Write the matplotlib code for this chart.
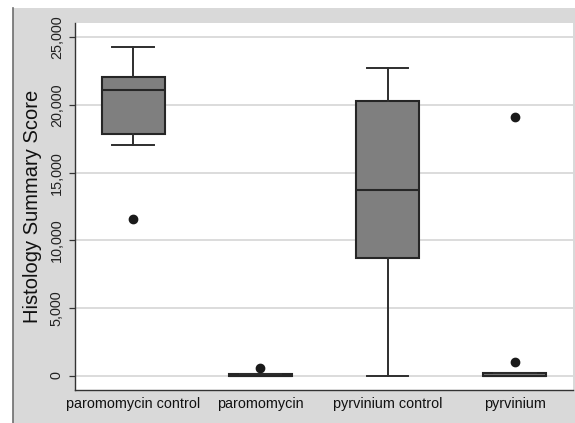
import matplotlib
matplotlib.use('Agg')
import matplotlib.pyplot as plt
from matplotlib.patches import Rectangle
from matplotlib.lines import Line2D
from matplotlib.ticker import FuncFormatter

plt.rcParams['font.family'] = ['Liberation Sans', 'DejaVu Sans']

# box statistics
groups = ['paromomycin control', 'paromomycin', 'pyrvinium control', 'pyrvinium']
whisker_lo = [17030, 0, 0, 0]
q1 = [17840, 0, 8670, 0]
median = [21120, 0, 13720, 0]
q3 = [22060, 130, 20280, 200]
whisker_hi = [24270, 130, 22720, 200]
outliers = [[11580], [530], [], [1020, 19140]]
yticks = [0, 5000, 10000, 15000, 20000, 25000]

fig = plt.figure(figsize=(5.75, 4.23), dpi=100)
fig.patch.set_facecolor('white')

# grey outer panel with dark left border
fig.patches.append(Rectangle((13 / 575, 0), 1 - 13 / 575, 1 - 8 / 423,
                             transform=fig.transFigure, facecolor='#d9d9d9',
                             edgecolor='none', zorder=-10))
fig.lines.append(Line2D([13 / 575, 13 / 575], [0, 1 - 8 / 423],
                        transform=fig.transFigure, color='#6e6e6e', lw=1.2,
                        zorder=-9))

ax = fig.add_axes([75 / 575, 33 / 423, 498 / 575, 367 / 423])
ax.set_facecolor('white')

stats = []
for i, g in enumerate(groups):
    stats.append(dict(label=g, whislo=whisker_lo[i], q1=q1[i], med=median[i],
                      q3=q3[i], whishi=whisker_hi[i], fliers=outliers[i]))

ax.bxp(stats, positions=range(1, len(groups) + 1), widths=0.5,
       patch_artist=True, showfliers=True,
       boxprops=dict(facecolor='#7f7f7f', edgecolor='#262626', linewidth=1.5),
       medianprops=dict(color='#262626', linewidth=1.5),
       whiskerprops=dict(color='#2e2e2e', linewidth=1.4),
       capprops=dict(color='#2e2e2e', linewidth=1.4),
       capwidths=0.33,
       flierprops=dict(marker='o', markerfacecolor='#1a1a1a',
                       markeredgecolor='#1a1a1a', markersize=6))

ax.set_xlim(0.54, 4.46)
ax.set_ylim(-1070, 26070)
ax.set_yticks(yticks)
ax.yaxis.set_major_formatter(FuncFormatter(lambda v, p: f'{int(v):,}'))
ax.grid(axis='y', color='#d6d6d6', linewidth=1.2)
ax.set_axisbelow(True)

for s in ['top', 'right']:
    ax.spines[s].set_visible(False)
for s in ['left', 'bottom']:
    ax.spines[s].set_color('#333333')
    ax.spines[s].set_linewidth(1.0)

ax.tick_params(axis='y', length=4.5, width=0.9, color='#333333', pad=3.5,
               labelsize=10.4, labelcolor='#222222')
ax.tick_params(axis='x', length=0, pad=5, labelsize=10.4, labelcolor='#111111')
for t in ax.get_yticklabels():
    t.set_rotation(90)
    t.set_va('center')

ax.set_ylabel('Histology Summary Score', fontsize=14.5, color='#111111',
              labelpad=6)

fig.savefig('out.png', dpi=100, facecolor=fig.get_facecolor())
